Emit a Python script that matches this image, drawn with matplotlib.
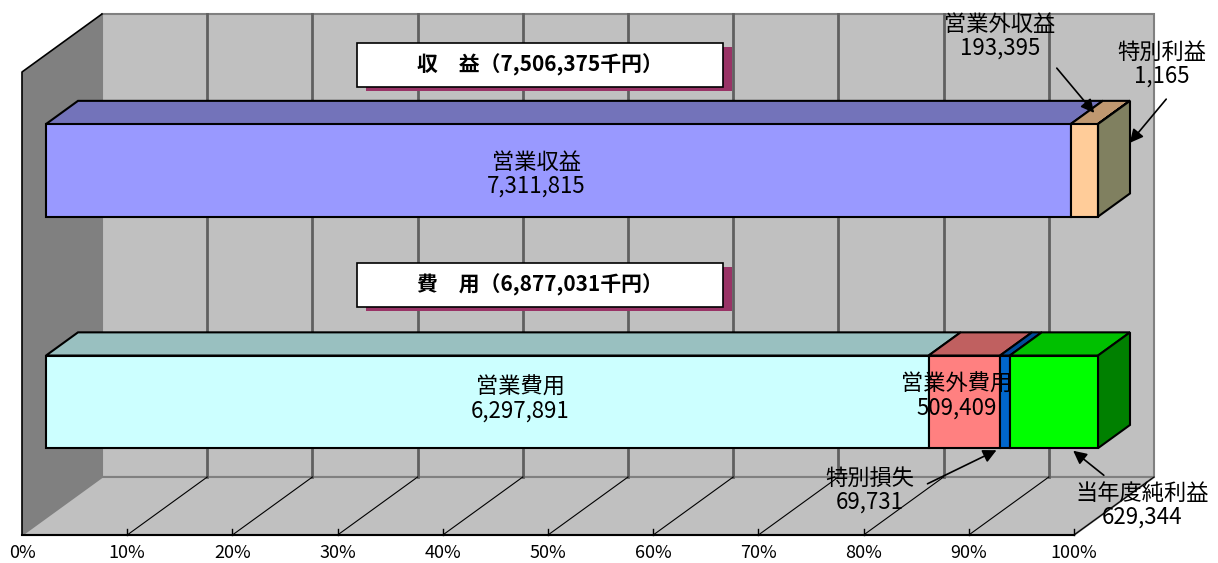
import matplotlib
matplotlib.use("Agg")
import matplotlib.pyplot as plt
from matplotlib.patches import Polygon, Rectangle

plt.rcParams['font.family'] = ['Noto Sans CJK JP', 'DejaVu Sans']

# data (千円)
rev_names = ['営業収益', '営業外収益', '特別利益']
rev_values = [7311815, 193395, 1165]
exp_names = ['営業費用', '営業外費用', '特別損失', '当年度純利益']
exp_values = [6297891, 509409, 69731, 629344]
titles = ['収　益（7,506,375千円）', '費　用（6,877,031千円）']
tick_labels = ['%d%%' % (10 * i) for i in range(11)]

rev_front = ['#9999FF', '#FFCC99', '#C8C8A0']
rev_top = ['#7373BA', '#C09870', '#A0A080']
rev_side = '#808060'
exp_front = ['#CCFFFF', '#FF8080', '#0066CC', '#00FF00']
exp_top = ['#99C0C0', '#C06060', '#004C99', '#00C000']
exp_side = '#008000'

# layout: x in percent, y in category units, depth shifts up-right
SX, SY = 10.52, 231.5          # px per percent / per category unit
DX, DY = 80 / SX, 58 / SY      # full depth offset in data units
D0, D1 = 0.3, 0.7              # bar depth range
HALF = 0.2                     # half bar height


def px(x, y):
    return (x - 22) / SX, (535 - y) / SY


fig = plt.figure(figsize=(12.18, 5.63), dpi=100)
ax = fig.add_axes([0, 0, 1, 1])
ax.set_xlim(px(0, 0)[0], px(1218, 0)[0])
ax.set_ylim(px(0, 563)[1], px(0, 0)[1])
ax.axis('off')

ytop = 2.0
# walls
ax.add_patch(Polygon([(DX, DY), (100 + DX, DY), (100 + DX, ytop + DY), (DX, ytop + DY)],
                     closed=True, fc='#C0C0C0', ec='#808080', lw=1.5, zorder=1))
ax.add_patch(Polygon([(0, 0), (DX, DY), (DX, ytop + DY), (0, ytop)],
                     closed=True, fc='#808080', ec='none', zorder=1))
ax.add_patch(Polygon([(0, 0), (DX, DY), (100 + DX, DY), (100, 0)],
                     closed=True, fc='#C0C0C0', ec='#808080', lw=1.5, zorder=1))
ax.plot([0, 0, DX], [0, ytop, ytop + DY], color='black', lw=1.2, zorder=2)
ax.plot([0, 100], [0, 0], color='black', lw=1.5, zorder=3)
for i in range(11):
    xv = 10 * i
    if 0 < i < 10:
        ax.plot([xv + DX, xv + DX], [DY, ytop + DY], color='#606060', lw=2, zorder=2)
    if i > 0:
        ax.plot([xv, xv + DX], [0, DY], color='black', lw=0.8, zorder=2)
        ax.plot([xv, xv], [0, 6 / SY], color='black', lw=1, zorder=3)
    ax.text(xv, -18 / SY, tick_labels[i], ha='center', va='center', fontsize=13)


def draw_bar(values, fronts, tops, side, yc):
    total = sum(rev_values)
    starts = []
    s = 0
    for v in values:
        starts.append(s)
        s += v
    y0, y1 = yc - HALF, yc + HALF
    for v, st, fc, tc in zip(values, starts, fronts, tops):
        x0 = st / total * 100
        x1 = (st + v) / total * 100
        ax.add_patch(Polygon([(x0 + D0 * DX, y1 + D0 * DY), (x1 + D0 * DX, y1 + D0 * DY),
                              (x1 + D1 * DX, y1 + D1 * DY), (x0 + D1 * DX, y1 + D1 * DY)],
                             closed=True, fc=tc, ec='black', lw=1.5, zorder=5))
        ax.add_patch(Rectangle((x0 + D0 * DX, y0 + D0 * DY), x1 - x0, y1 - y0,
                               fc=fc, ec='black', lw=1.5, zorder=6))
    xe = s / total * 100
    ax.add_patch(Polygon([(xe + D0 * DX, y0 + D0 * DY), (xe + D1 * DX, y0 + D1 * DY),
                          (xe + D1 * DX, y1 + D1 * DY), (xe + D0 * DX, y1 + D0 * DY)],
                         closed=True, fc=side, ec='black', lw=1.5, zorder=5))


draw_bar(rev_values, rev_front, rev_top, rev_side, 1.5)
draw_bar(exp_values, exp_front, exp_top, exp_side, 0.5)

# title boxes
for t, ytb in zip(titles, [43, 263]):
    bx, by = px(357, ytb + 44)
    w = 366 / SX
    h = 44 / SY
    ax.add_patch(Rectangle((bx + 9 / SX, by - 4 / SY), w, h, fc='#993366', ec='none', zorder=7))
    ax.add_patch(Rectangle((bx, by), w, h, fc='white', ec='black', lw=1.2, zorder=8))
    ax.text(bx + w / 2, by + h / 2, t, ha='center', va='center', fontsize=15,
            fontweight='bold', zorder=9)


def label(name, value, x, y, zorder=10):
    ax.text(*px(x, y), '%s\n%s' % (name, format(value, ',')), ha='center', va='center',
            fontsize=16, linespacing=1.05, zorder=zorder)


def arrow(x0, y0, x1, y1):
    ax.annotate('', xy=px(x1, y1), xytext=px(x0, y0),
                arrowprops=dict(arrowstyle='-|>', color='black', lw=1.2, mutation_scale=20),
                zorder=10)


label(rev_names[0], rev_values[0], 536, 174)
label(exp_names[0], exp_values[0], 520, 399)
label(exp_names[1], exp_values[1], 957, 396)
label(rev_names[1], rev_values[1], 1000, 36)
label(rev_names[2], rev_values[2], 1162, 64)
label(exp_names[2], exp_values[2], 870, 490)
label(exp_names[3], exp_values[3], 1142, 505)

arrow(1055, 66, 1096, 115)
arrow(1168, 97, 1128, 145)
arrow(925, 485, 999, 449)
arrow(1106, 477, 1071, 449)

fig.savefig('out.png', dpi=100)
